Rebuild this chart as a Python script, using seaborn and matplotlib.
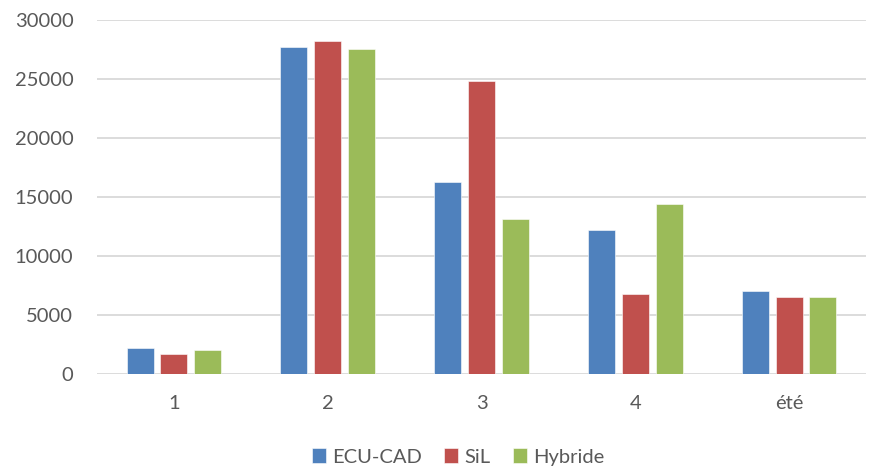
import matplotlib
matplotlib.use("Agg")
import matplotlib.pyplot as plt
import seaborn as sns
import pandas as pd

categories = ["1", "2", "3", "4", "été"]
series_names = ["ECU-CAD", "SiL", "Hybride"]
ecu_cad = [2150, 27700, 16300, 12200, 7000]
sil = [1650, 28250, 24800, 6750, 6500]
hybride = [2050, 27500, 13100, 14400, 6500]
colors = ["#4F81BD", "#C0504D", "#9BBB59"]
y_ticks = [0, 5000, 10000, 15000, 20000, 25000, 30000]

rows = []
for name, values in zip(series_names, [ecu_cad, sil, hybride]):
    for cat, v in zip(categories, values):
        rows.append({"cat": cat, "series": name, "value": v})
df = pd.DataFrame(rows)

sns.set_theme(style="white")
plt.rcParams["font.family"] = ["Lato", "DejaVu Sans"]
text_color = "#595959"
grid_color = "#D9D9D9"

fig = plt.figure(figsize=(8.71, 4.69), dpi=100)
ax = fig.add_axes([97 / 871, 95.3 / 469, 769 / 871, (373.7 - 20) / 469])

sns.barplot(data=df, x="cat", y="value", hue="series", order=categories,
            hue_order=series_names, palette=colors, saturation=1,
            width=0.66, gap=0.2, errorbar=None, ax=ax,
            edgecolor="white", linewidth=0.4, zorder=3)

ax.set_ylim(0, 30000)
ax.set_xlim(-0.5, len(categories) - 0.5)
ax.set_yticks(y_ticks)
ax.set_yticklabels([str(t) for t in y_ticks])
ax.set_xlabel("")
ax.set_ylabel("")
for t in y_ticks:
    ax.axhline(t, color=grid_color, linewidth=1.3, zorder=1)
for s in ax.spines.values():
    s.set_visible(False)
ax.tick_params(axis="both", length=0, labelsize=14.5, colors=text_color)
ax.tick_params(axis="y", pad=17)
ax.tick_params(axis="x", pad=15)

handles, labels = ax.get_legend_handles_labels()
ax.get_legend().remove()
fig.legend(handles, labels, loc="center", bbox_to_anchor=(458 / 871, 12 / 469),
           ncol=3, frameon=False, fontsize=14.5, labelcolor=text_color,
           handlelength=0.7, handleheight=0.7, handletextpad=0.3,
           columnspacing=1.1, borderpad=0)

fig.savefig("out.png", dpi=100, facecolor="white")
